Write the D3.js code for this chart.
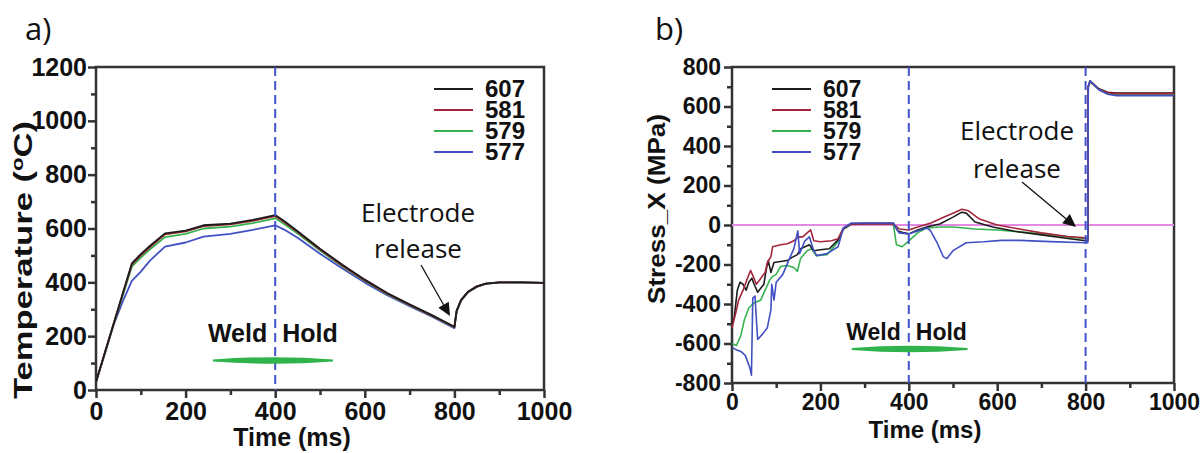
<!DOCTYPE html>
<html>
<head>
<meta charset="utf-8">
<script src="https://cdn.jsdelivr.net/npm/d3@7"></script>
<style>
  html, body { margin: 0; padding: 0; background: #fff; }
  svg { display: block; }
</style>
</head>
<body>
<svg id="fig" width="1200" height="453"></svg>
<script>
// ---------- data ----------
const seriesNames = ["607", "581", "579", "577"];

// a) temperature history (ms, degC)
const timeA = [0, 20, 40, 60, 80, 100, 120, 154, 200, 240, 300, 350, 400, 420, 450, 500, 550, 600, 650, 700, 750, 800, 805, 815, 830, 850, 870, 900, 950, 1000];
const temp607 = [30, 140, 250, 360, 470, 505, 535, 582, 592, 612, 618, 632, 650, 628, 590, 525, 465, 410, 360, 318, 278, 235, 295, 335, 365, 385, 395, 400, 400, 398];
const temp581 = [30, 140, 250, 358, 466, 500, 530, 578, 589, 609, 615, 628, 646, 624, 587, 522, 462, 407, 358, 316, 276, 234, 294, 334, 364, 384, 395, 400, 400, 398];
const temp579 = [30, 138, 248, 352, 458, 492, 522, 568, 580, 600, 607, 620, 638, 617, 581, 518, 459, 405, 356, 314, 275, 233, 293, 333, 363, 384, 395, 400, 400, 398];
const temp577 = [30, 135, 245, 330, 405, 440, 480, 533, 548, 570, 580, 595, 612, 596, 566, 506, 451, 399, 352, 311, 272, 230, 292, 332, 362, 383, 394, 399, 400, 398];

// b) stress_X history (ms, MPa)
const timeB607 = [0, 5, 12, 18, 25, 32, 38, 45, 50, 58, 65, 72, 78, 82, 88, 95, 110, 125, 135, 148, 155, 165, 175, 185, 200, 220, 240, 252, 270, 300, 330, 365, 375, 390, 400, 420, 440, 470, 500, 520, 530, 550, 590, 640, 700, 760, 800, 805, 806, 810, 830, 850, 870, 1000];
const stress607 = [-500, -470, -330, -290, -300, -330, -290, -270, -300, -340, -320, -300, -220, -180, -240, -190, -185, -180, -165, -150, -120, -110, -100, -130, -125, -120, -75, -20, 5, 8, 8, 8, -30, -40, -45, -25, -10, 5, 40, 65, 60, 15, -10, -32, -50, -68, -80, -80, 700, 730, 690, 672, 668, 668];

const timeB581 = [0, 8, 15, 25, 35, 42, 48, 55, 62, 75, 80, 88, 92, 110, 125, 140, 150, 160, 170, 178, 185, 200, 225, 240, 252, 270, 365, 378, 400, 420, 450, 480, 500, 520, 535, 560, 600, 650, 700, 760, 800, 805, 806, 810, 830, 850, 870, 1000];
const stress581 = [-520, -450, -380, -330, -270, -230, -260, -300, -280, -240, -190, -160, -110, -100, -95, -80, -60, -60, -40, -25, -80, -85, -80, -70, -15, 5, 5, -20, -25, -10, 10, 40, 60, 80, 72, 30, 0, -20, -40, -58, -65, -65, 700, 728, 688, 670, 665, 665];

const timeB579 = [0, 10, 20, 28, 38, 47, 55, 65, 75, 85, 92, 100, 110, 125, 140, 148, 155, 170, 180, 190, 215, 240, 252, 270, 365, 372, 385, 400, 420, 440, 470, 500, 550, 600, 650, 700, 760, 800, 805, 806, 810, 830, 850, 870, 1000];
const stress579 = [-600, -610, -560, -480, -420, -400, -390, -380, -330, -280, -260, -250, -210, -205, -215, -235, -170, -130, -120, -155, -150, -85, -20, 5, 5, -100, -110, -80, -40, -15, -10, -10, -20, -25, -35, -45, -60, -70, -70, 700, 725, 685, 665, 660, 660];

const timeB577 = [0, 8, 20, 30, 40, 44, 47, 52, 58, 70, 80, 88, 90, 95, 100, 115, 130, 140, 149, 153, 165, 175, 185, 192, 215, 240, 252, 270, 365, 378, 400, 420, 440, 448, 463, 478, 486, 500, 530, 570, 610, 650, 720, 800, 805, 806, 810, 830, 850, 870, 1000];
const stress577 = [-620, -630, -640, -660, -720, -760, -370, -360, -580, -550, -520, -430, -300, -380, -290, -250, -170, -120, -30, -145, -80, -60, -130, -155, -145, -110, -15, 10, 10, -40, -45, -30, -15, -25, -85, -160, -170, -130, -90, -85, -78, -78, -84, -90, -90, 700, 730, 685, 662, 655, 655];

// axis ticks
const xMajor = [0, 200, 400, 600, 800, 1000];
const xMinor = [100, 300, 500, 700, 900];
const tempMajor = [0, 200, 400, 600, 800, 1000, 1200];
const tempMinor = [100, 300, 500, 700, 900, 1100];
const stressMajor = [-800, -600, -400, -200, 0, 200, 400, 600, 800];
const stressMinor = [-700, -500, -300, -100, 100, 300, 500, 700];

// process markers
const phaseSplit = 400;          // end of weld current
const releaseTime = 800;         // electrode release
const weldBarA = [261, 529, 110];   // start, end, level (degC)
const weldBarB = [271, 533, -628];  // start, end, level (MPa)

// ---------- styling ----------
const boldFont = "'Liberation Sans', Arial, sans-serif";
const plainFont = "'Open Sans', 'Noto Sans', sans-serif";
const seriesColor = { "607": "#1c1c1c", "581": "#a3263b", "579": "#36b24f", "577": "#4150c4" };
const axisColor = "#333";
const markerBlue = "#4352cc";

const svg = d3.select("#fig");

function styleAxis(g, fontSize) {
  g.select(".domain").remove();
  g.selectAll(".tick line").attr("stroke", axisColor).attr("stroke-width", 2.5);
  g.selectAll(".tick text")
    .attr("fill", "#111")
    .style("font-family", boldFont)
    .style("font-weight", "bold")
    .style("font-size", fontSize + "px");
}

function drawFrame(x, y, cfg) {
  const [x0, x1] = x.range();
  const [y0, y1] = y.range();
  const g = svg.append("g");

  // x axis (major + minor)
  g.append("g").attr("transform", `translate(0,${y0})`)
    .call(d3.axisBottom(x).tickValues(xMajor).tickSize(8).tickPadding(cfg.xPad).tickFormat(d => String(d)))
    .call(a => styleAxis(a, cfg.font));
  g.append("g").attr("transform", `translate(0,${y0})`)
    .call(d3.axisBottom(x).tickValues(xMinor).tickSize(5).tickFormat(""))
    .call(a => styleAxis(a, cfg.font));

  // y axis (major + minor)
  g.append("g").attr("transform", `translate(${x0},0)`)
    .call(d3.axisLeft(y).tickValues(cfg.yMajor).tickSize(8).tickPadding(cfg.yPad).tickFormat(d => String(d)))
    .call(a => styleAxis(a, cfg.font));
  g.append("g").attr("transform", `translate(${x0},0)`)
    .call(d3.axisLeft(y).tickValues(cfg.yMinor).tickSize(5).tickFormat(""))
    .call(a => styleAxis(a, cfg.font));

  // box
  g.append("rect")
    .attr("x", x0).attr("y", y1).attr("width", x1 - x0).attr("height", y0 - y1)
    .attr("fill", "none").attr("stroke", axisColor).attr("stroke-width", 2.5);
}

function drawSeries(x, y, times, values, name, width) {
  const line = d3.line().x(d => x(d[0])).y(d => y(d[1]));
  svg.append("path")
    .datum(d3.zip(times, values))
    .attr("d", line)
    .attr("fill", "none")
    .attr("stroke", seriesColor[name])
    .attr("stroke-width", width)
    .attr("stroke-linejoin", "round");
}

function drawDashed(x, y, t) {
  svg.append("line")
    .attr("x1", x(t)).attr("x2", x(t))
    .attr("y1", y.range()[1]).attr("y2", y.range()[0])
    .attr("stroke", markerBlue).attr("stroke-width", 2)
    .attr("stroke-dasharray", "9,5");
}

function drawLegend(xLine, yTop, step, fontSize) {
  seriesNames.forEach((n, i) => {
    const yy = yTop + i * step;
    svg.append("line").attr("x1", xLine).attr("x2", xLine + 39)
      .attr("y1", yy).attr("y2", yy)
      .attr("stroke", seriesColor[n]).attr("stroke-width", 2);
    svg.append("text").attr("x", xLine + 51).attr("y", yy + 8)
      .attr("fill", "#111")
      .style("font-family", boldFont).style("font-weight", "bold").style("font-size", fontSize + "px")
      .text(n);
  });
}

function drawWeldHold(x, y, bar, labelY, fontSize) {
  const [t0, t1, level] = bar;
  const xs = x(t0), xe = x(t1), xc = x(phaseSplit), yb = y(level);
  const p = d3.path();
  p.moveTo(xs, yb - 1);
  p.quadraticCurveTo(xc, yb - 5.5, xe, yb - 1);
  p.lineTo(xe, yb + 1);
  p.quadraticCurveTo(xc, yb + 5.5, xs, yb + 1);
  p.closePath();
  svg.append("path").attr("d", p.toString()).attr("fill", "#2fb34a");

  const style = s => s.attr("fill", "#111")
    .style("font-family", boldFont).style("font-weight", "bold").style("font-size", fontSize + "px");
  svg.append("text").attr("x", xc - 8).attr("y", labelY).attr("text-anchor", "end").call(style).text("Weld");
  svg.append("text").attr("x", xc + 7).attr("y", labelY).attr("text-anchor", "start").call(style).text("Hold");
}

function drawRelease(cx, y1, y2, from, to) {
  const style = s => s.attr("fill", "#111").attr("text-anchor", "middle")
    .style("font-family", plainFont).style("font-size", "26px");
  svg.append("text").attr("x", cx).attr("y", y1).call(style).text("Electrode");
  svg.append("text").attr("x", cx).attr("y", y2).call(style).text("release");
  // arrow
  const dx = to[0] - from[0], dy = to[1] - from[1];
  const len = Math.hypot(dx, dy), ux = dx / len, uy = dy / len;
  const head = 13, half = 6;
  const bx = to[0] - ux * head, by = to[1] - uy * head;
  svg.append("line").attr("x1", from[0]).attr("y1", from[1]).attr("x2", bx).attr("y2", by)
    .attr("stroke", "#111").attr("stroke-width", 1.3);
  svg.append("path")
    .attr("d", `M${to[0]},${to[1]}L${bx - uy * half},${by + ux * half}L${bx + uy * half},${by - ux * half}Z`)
    .attr("fill", "#111");
}

function panelTag(x, y, s) {
  svg.append("text").attr("x", x).attr("y", y).attr("fill", "#111")
    .style("font-family", plainFont).style("font-size", "31px").text(s);
}

// ---------- panel a: temperature ----------
{
  const x = d3.scaleLinear().domain([0, 1000]).range([96, 544]);
  const y = d3.scaleLinear().domain([0, 1200]).range([390, 67]);

  drawFrame(x, y, { yMajor: tempMajor, yMinor: tempMinor, font: 25, xPad: 4, yPad: 1 });

  drawSeries(x, y, timeA, temp577, "577", 1.8);
  drawSeries(x, y, timeA, temp579, "579", 1.8);
  drawSeries(x, y, timeA, temp581, "581", 1.8);
  drawSeries(x, y, timeA, temp607, "607", 1.8);

  drawDashed(x, y, phaseSplit);
  drawLegend(434, 89, 21, 24);
  drawWeldHold(x, y, weldBarA, 342, 25);
  drawRelease(418, 222, 258, [421, 265], [450, 316]);

  svg.append("text").attr("x", 292).attr("y", 446).attr("text-anchor", "middle")
    .attr("fill", "#111").style("font-family", boldFont).style("font-weight", "bold").style("font-size", "25px")
    .text("Time (ms)");

  const yt = svg.append("text").attr("transform", "translate(32,260) rotate(-90)")
    .attr("text-anchor", "middle").attr("fill", "#111")
    .attr("textLength", 278).attr("lengthAdjust", "spacingAndGlyphs")
    .style("font-family", boldFont).style("font-weight", "bold").style("font-size", "25px");
  yt.append("tspan").text("Temperature (");
  yt.append("tspan").attr("dy", -9).style("font-size", "16px").text("o");
  yt.append("tspan").attr("dy", 9).text("C)");

  panelTag(25, 40, "a)");
}

// ---------- panel b: stress ----------
{
  const x = d3.scaleLinear().domain([0, 1000]).range([732, 1174]);
  const y = d3.scaleLinear().domain([-800, 800]).range([383, 67]);

  drawFrame(x, y, { yMajor: stressMajor, yMinor: stressMinor, font: 23, xPad: 3, yPad: 3 });

  svg.append("line").attr("x1", x(0)).attr("x2", x(1000)).attr("y1", y(0)).attr("y2", y(0))
    .attr("stroke", "#e38be3").attr("stroke-width", 1.8);

  drawSeries(x, y, timeB579, stress579, "579", 1.6);
  drawSeries(x, y, timeB607, stress607, "607", 1.6);
  drawSeries(x, y, timeB581, stress581, "581", 1.6);
  drawSeries(x, y, timeB577, stress577, "577", 1.6);

  drawDashed(x, y, phaseSplit);
  drawDashed(x, y, releaseTime);
  drawLegend(772, 89, 21, 23);
  drawWeldHold(x, y, weldBarB, 340, 23);
  drawRelease(1017, 140, 178, [1022, 182], [1076, 227]);

  svg.append("text").attr("x", 925).attr("y", 438).attr("text-anchor", "middle")
    .attr("fill", "#111").style("font-family", boldFont).style("font-weight", "bold").style("font-size", "24px")
    .text("Time (ms)");

  svg.append("text").attr("transform", "translate(665,209) rotate(-90)")
    .attr("text-anchor", "middle").attr("fill", "#111")
    .attr("textLength", 190).attr("lengthAdjust", "spacingAndGlyphs")
    .style("font-family", boldFont).style("font-weight", "bold").style("font-size", "24px")
    .text("Stress_X (MPa)");

  panelTag(655, 40, "b)");
}
</script>
</body>
</html>
